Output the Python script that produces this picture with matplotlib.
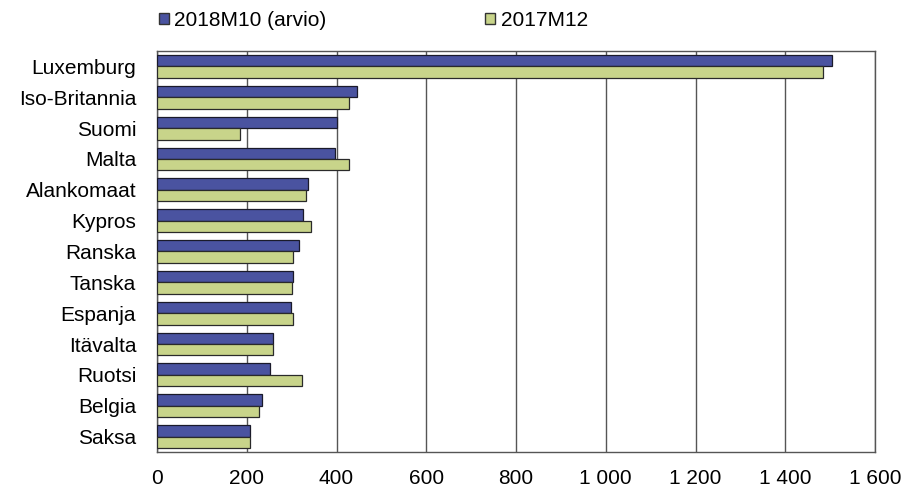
import matplotlib
matplotlib.use("Agg")
import matplotlib.pyplot as plt
from matplotlib.patches import Patch
from matplotlib.ticker import FuncFormatter
import numpy as np

plt.rcParams["font.family"] = ["Liberation Sans", "DejaVu Sans"]

countries = ["Luxemburg", "Iso-Britannia", "Suomi", "Malta", "Alankomaat", "Kypros",
             "Ranska", "Tanska", "Espanja", "Itävalta", "Ruotsi", "Belgia", "Saksa"]
v_2018m10 = [1503, 446, 402, 397, 336, 326, 317, 304, 298, 258, 252, 235, 208]
v_2017m12 = [1484, 427, 186, 428, 333, 344, 304, 301, 304, 258, 323, 227, 208]
series_labels = ["2018M10 (arvio)", "2017M12"]

BLUE = "#4a53a0"
GREEN = "#c8d48a"

fig = plt.figure(figsize=(9.09, 4.88), dpi=100)
ax = fig.add_axes([0.1727, 0.0738, 0.79, 0.8217])

y = np.arange(len(countries))
h = 0.37
ax.barh(y - h / 2, v_2018m10, height=h, color=BLUE, edgecolor="#1a1a2a", linewidth=0.9, zorder=3)
ax.barh(y + h / 2, v_2017m12, height=h, color=GREEN, edgecolor="#2a2a2a", linewidth=0.9, zorder=3)

ax.set_xlim(0, 1600)
ax.set_ylim(len(countries) - 0.5, -0.5)
ax.set_xticks(np.arange(0, 1601, 200))
ax.xaxis.set_major_formatter(FuncFormatter(lambda v, p: f"{int(v):,}".replace(",", " ")))
ax.set_yticks(y)
ax.set_yticklabels(countries)
ax.tick_params(axis="both", length=0, labelsize=15)
ax.tick_params(axis="x", pad=12)
ax.tick_params(axis="y", pad=15)
ax.grid(axis="x", color="#555555", linewidth=1.0, zorder=0)
for s in ax.spines.values():
    s.set_color("#555555")
    s.set_linewidth(1.0)

handles = [Patch(facecolor=BLUE, edgecolor="#333333"), Patch(facecolor=GREEN, edgecolor="#333333")]
fig.legend(handles, series_labels, loc="upper left", bbox_to_anchor=(0.154, 1.016), ncol=2,
           frameon=False, fontsize=15, handlelength=0.5, handleheight=0.5, handletextpad=0.25,
           columnspacing=7.6)

fig.savefig("out.png", dpi=100)
